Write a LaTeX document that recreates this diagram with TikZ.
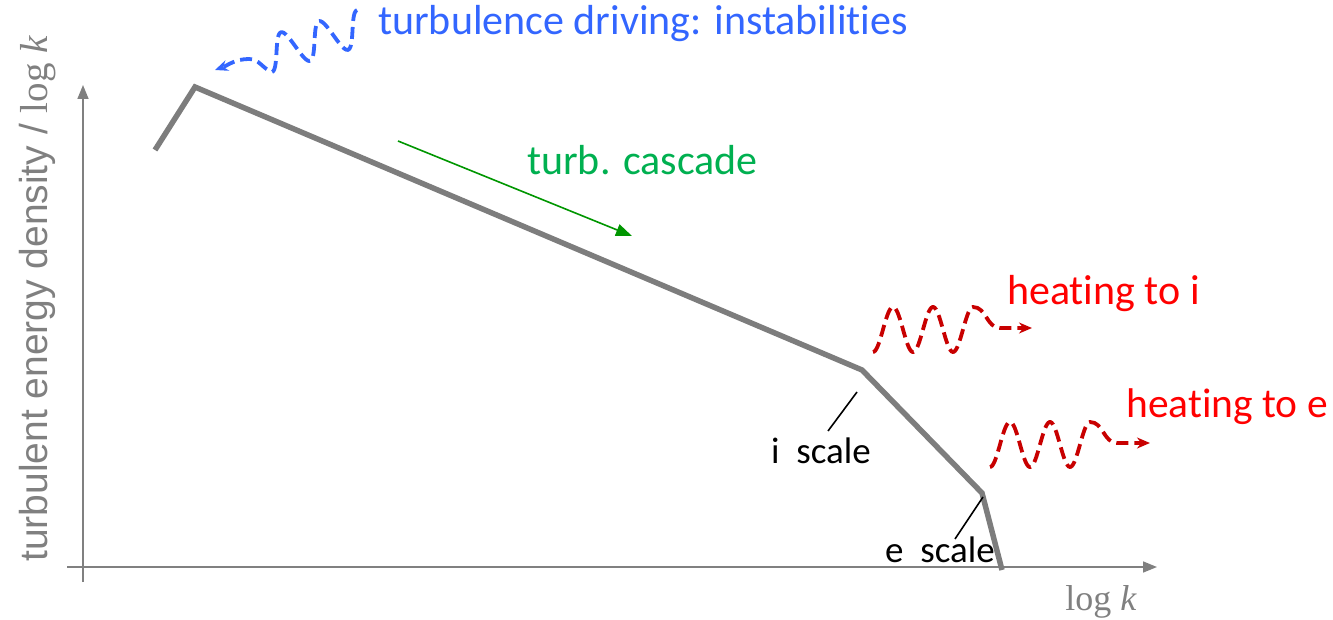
\documentclass[tikz,border=0pt]{standalone}
\usepackage{fontspec}
\setmainfont{Carlito}[Ligatures=NoCommon]
\newfontfamily\arialf{Liberation Sans}
\newfontfamily\serf{Liberation Serif}
\usetikzlibrary{arrows.meta}
\definecolor{axgray}{RGB}{128,128,128}
\definecolor{spgray}{RGB}{125,125,125}
\definecolor{tgreen}{RGB}{0,176,80}
\definecolor{agreen}{RGB}{0,150,0}
\definecolor{tblue}{RGB}{51,102,255}
\definecolor{tred}{RGB}{255,0,0}
\definecolor{dred}{RGB}{200,0,0}
\tikzset{
  axis/.style={draw=axgray,line width=1.6pt,-{Triangle[length=14pt,width=11pt]}},
  spec/.style={draw=spgray,line width=5.5pt,line join=miter},
  tick/.style={draw=black,line width=1.6pt},
  wave/.style={dash pattern=on 12pt off 6pt,line width=3.8pt,-{Stealth[length=13pt,width=11pt]}},
  lbl/.style={inner sep=0pt,anchor=base west},
}
\begin{document}
\begin{tikzpicture}[x=1pt,y=-1pt]
\useasboundingbox (0,0) rectangle (1333,620);
% axes
\coordinate (yb) at (83,582);
\coordinate (yt) at (83,85);
\coordinate (xl) at (67,567);
\coordinate (xr) at (1157,567);
\draw[axis] (yb) -- (yt);
\draw[axis] (xl) -- (xr);
\node[text=axgray,rotate=90,font=\arialf\fontsize{39}{42}\selectfont,inner sep=0pt] (ylab) at (38,299) {turbulent energy density / {\serf log \itshape k}};
\node[text=axgray,font=\serf\fontsize{36}{40}\selectfont,inner sep=0pt,anchor=base] (xlab) at (1101,610) {log \textit{k}};
% spectrum
\coordinate (p0) at (155,150);
\coordinate (p1) at (195,87);
\coordinate (p2) at (862,370);
\coordinate (p3) at (982,493);
\coordinate (p4) at (1002,570);
\draw[spec] (p0) -- (p1) -- (p2) -- (p3) -- (p4);
% scale labels
\coordinate (ia) at (857,392);
\coordinate (ib) at (828,431);
\draw[tick] (ia) -- (ib);
\node[lbl,font=\fontsize{37}{40}\selectfont] (iscale) at (771,463) {i\ \ scale};
\coordinate (ea) at (983,497);
\coordinate (eb) at (955,539);
\draw[tick] (ea) -- (eb);
\node[lbl,font=\fontsize{37}{40}\selectfont] (escale) at (885,562) {e\ \ scale};
% cascade
\coordinate (ca) at (398,141);
\coordinate (cb) at (632,236);
\draw[agreen,line width=1.6pt,-{Triangle[length=16pt,width=12pt]}] (ca) -- (cb);
\node[lbl,text=tgreen,font=\fontsize{42}{46}\selectfont] (casc) at (527,175) {turb. cascade};
% driving
\draw[wave,tblue] plot[variable=\t,domain=15.708:0,samples=90] ({267+6.05*\t+4.98*cos(\t r)},{54.9-1.764*\t+17.09*cos(\t r)}) to[out=160,in=0] (249,59) to[out=180,in=20] (215,70);
\node[lbl,text=tblue,font=\fontsize{42}{46}\selectfont] (drive) at (378,35) {turbulence driving: instabilities};
% heating i
\draw[wave,dred] plot[variable=\t,domain=0:15.708,samples=90] ({873+6.366*\t},{329.5+22.5*cos(\t r)}) to[out=0,in=180] (1000,328) -- (1032,328);
\node[lbl,text=tred,font=\fontsize{42}{46}\selectfont] (hi) at (1007,305) {heating to i};
% heating e
\draw[wave,dred] plot[variable=\t,domain=0:15.708,samples=90] ({990+6.366*\t},{444.5+22.5*cos(\t r)}) to[out=0,in=180] (1117,443) -- (1150,443);
\node[lbl,text=tred,font=\fontsize{41.5}{46}\selectfont] (he) at (1126,417) {heating to e};
\end{tikzpicture}
\end{document}
